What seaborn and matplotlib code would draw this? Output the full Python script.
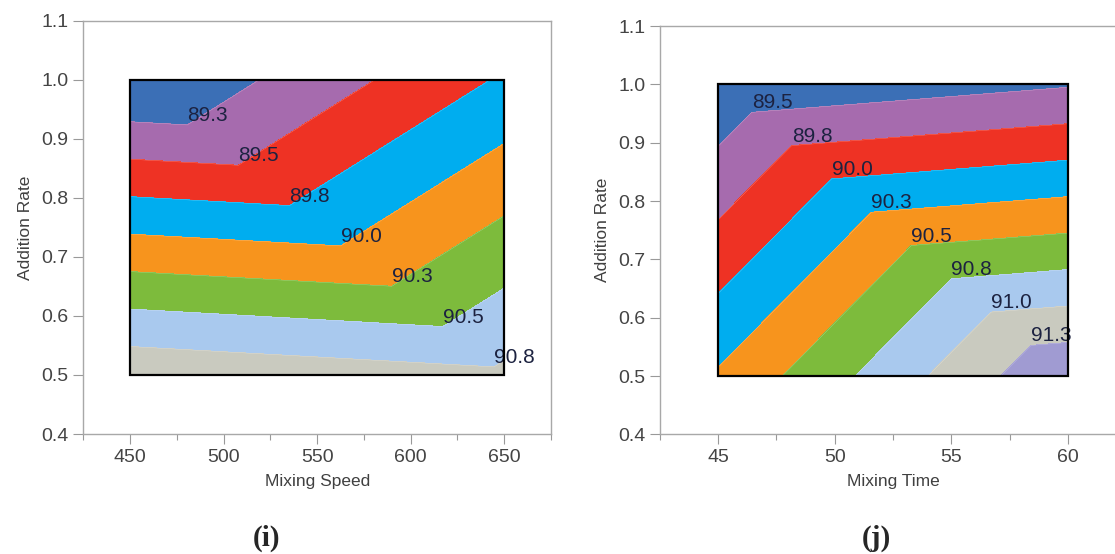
import numpy as np
import matplotlib
matplotlib.use("Agg")
import matplotlib.pyplot as plt
import matplotlib.tri as mtri
from matplotlib.patches import Rectangle
from matplotlib.ticker import MultipleLocator
import seaborn as sns

# corner design points (response surface from JMP), triangulated along the diagonal
speed = [450, 650, 450, 650]
rate_i = [0.5, 0.5, 1.0, 1.0]
yield_i = [90.94, 90.80, 88.97, 89.78]

mix_time = [45, 60, 45, 60]
rate_j = [0.5, 0.5, 1.0, 1.0]
yield_j = [90.28, 91.48, 89.29, 89.48]

tris = [[0, 1, 2], [1, 3, 2]]

levels_i = [88.0, 89.25, 89.5, 89.75, 90.0, 90.25, 90.5, 90.75, 92.0]
labels_i = ["89.3", "89.5", "89.8", "90.0", "90.3", "90.5", "90.8"]
levels_j = [88.0, 89.5, 89.75, 90.0, 90.25, 90.5, 90.75, 91.0, 91.25, 92.0]
labels_j = ["89.5", "89.8", "90.0", "90.3", "90.5", "90.8", "91.0", "91.3"]

band_colors = ["#3b6fb6", "#a66bae", "#ee3224", "#00adef", "#f7941d",
               "#7dbb3c", "#a9c9ee", "#c9cabf", "#a09bd2"]

sns.set_style("white")
plt.rcParams["font.family"] = ["Liberation Sans", "DejaVu Sans"]

fig = plt.figure(figsize=(11.15, 5.54), dpi=100)
ax1 = fig.add_axes([0.0747, 0.2166, 0.4195, 0.746])
ax2 = fig.add_axes([0.5919, 0.216, 0.418, 0.737])


def draw_panel(ax, x, y, z, levels, labels, xlim, xmajor, xlabel):
    x = np.array(x, float)
    y = np.array(y, float)
    z = np.array(z, float)
    tri = mtri.Triangulation(x, y, tris)
    ax.tricontourf(tri, z, levels=levels, colors=band_colors[:len(levels) - 1], zorder=1)
    ax.tricontour(tri, z, levels=levels[1:-1], colors="white", linewidths=0.3,
                  alpha=0.4, zorder=1)

    # labels sit at the kink of each contour (on the triangulation diagonal)
    for lev, txt in zip(levels[1:-1], labels):
        t = (lev - z[2]) / (z[1] - z[2])
        lx = x[2] + t * (x[1] - x[2])
        ly = y[2] + t * (y[1] - y[2])
        ax.text(lx, ly, txt, ha="left", va="bottom", fontsize=15,
                color="#1c2240", zorder=3)

    ax.add_patch(Rectangle((x.min(), y.min()), x.max() - x.min(), y.max() - y.min(),
                           fill=False, edgecolor="black", linewidth=1.6, zorder=4))

    ax.set_xlim(xlim)
    ax.set_ylim(0.4, 1.1)
    ax.xaxis.set_major_locator(MultipleLocator(xmajor))
    ax.xaxis.set_minor_locator(MultipleLocator(xmajor / 2))
    ax.yaxis.set_major_locator(MultipleLocator(0.1))
    ax.yaxis.set_major_formatter(matplotlib.ticker.FormatStrFormatter("%.1f"))
    ax.tick_params(axis="both", which="major", direction="out", length=7, width=0.8,
                   color="#999999", labelsize=14, labelcolor="#444444")
    ax.tick_params(axis="x", which="minor", direction="out", length=4, width=0.8,
                   color="#999999", bottom=True)
    ax.tick_params(axis="x", which="major", bottom=True)
    ax.tick_params(axis="y", which="major", left=True)
    for s in ax.spines.values():
        s.set_color("#a8a8a8")
        s.set_linewidth(1.0)
    ax.set_xlabel(xlabel, fontsize=12.5, color="#404040", labelpad=6)
    ax.set_ylabel("Addition Rate", fontsize=12.5, color="#404040", labelpad=6)


draw_panel(ax1, speed, rate_i, yield_i, levels_i, labels_i, (425, 675), 50, "Mixing Speed")
draw_panel(ax2, mix_time, rate_j, yield_j, levels_j, labels_j, (42.5, 62.5), 5, "Mixing Time")

fig.text(266 / 1115, 1 - 538 / 554, "(i)", ha="center", va="center", fontsize=21,
         fontweight="bold", family=["Liberation Serif", "DejaVu Serif"])
fig.text(876 / 1115, 1 - 538 / 554, "(j)", ha="center", va="center", fontsize=21,
         fontweight="bold", family=["Liberation Serif", "DejaVu Serif"])

fig.savefig("out.png", dpi=100, facecolor="white")
